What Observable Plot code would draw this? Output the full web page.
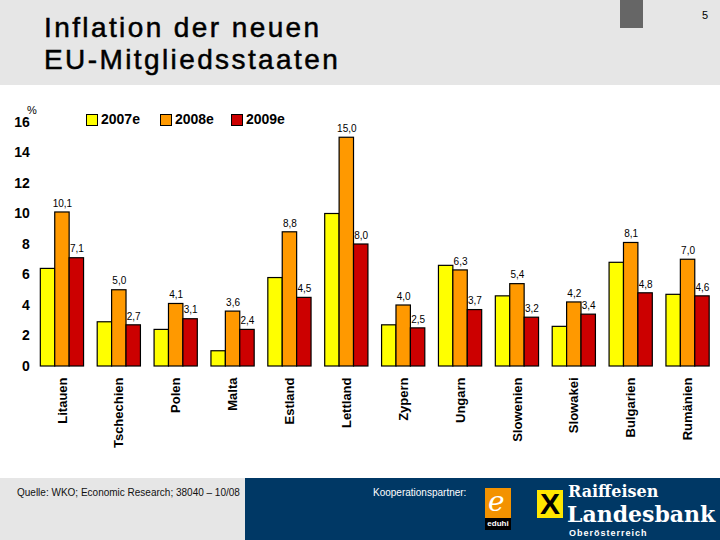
<!DOCTYPE html>
<html>
<head>
<meta charset="utf-8">
<script src="https://cdn.jsdelivr.net/npm/d3@7"></script>
<script src="https://cdn.jsdelivr.net/npm/@observablehq/plot@0.6"></script>
<style>
  body { margin: 0; }
  #page { position: relative; width: 720px; height: 540px; overflow: hidden; background: white; font-family: "Liberation Sans", Arial, sans-serif; }
  .abs { position: absolute; }
  .sw { display: inline-block; width: 10px; height: 10px; border: 1px solid black; vertical-align: middle; margin-right: 3px; }
</style>
</head>
<body>
<div id="page">
  <div class="abs" style="left:0;top:0;width:720px;height:85px;background:#e6e6e6;"></div>
  <div class="abs" style="left:620px;top:0;width:23px;height:28px;background:#666;"></div>
  <div class="abs" style="left:702px;top:9px;font-size:11px;">5</div>
  <div class="abs" style="left:44px;top:12px;font-size:28px;line-height:32px;letter-spacing:2.4px;color:#000;-webkit-text-stroke:0.5px #000;">Inflation der neuen<br>EU-Mitgliedsstaaten</div>

  <div id="chart" class="abs" style="left:0;top:85px;"></div>
  <div class="abs" style="left:27px;top:104px;font-size:11px;">%</div>
  <div id="legend" class="abs" style="left:86px;top:111px;font-size:14px;font-weight:bold;white-space:nowrap;"></div>

  <div class="abs" style="left:0;top:478px;width:245px;height:62px;background:#e6e6e6;"></div>
  <div class="abs" style="left:245px;top:478px;width:475px;height:62px;background:#003865;"></div>
  <div class="abs" style="left:17px;top:487px;font-size:10px;color:#111;">Quelle: WKO; Economic Research; 38040 – 10/08</div>
  <div class="abs" style="left:373px;top:487px;font-size:10px;color:#fff;">Kooperationspartner:</div>
  <div class="abs" style="left:485px;top:488px;width:26px;height:42px;background:#f39200;"></div>
  <div class="abs" style="left:488px;top:488px;font-size:28px;line-height:28px;font-style:italic;color:#fff;font-family:'DejaVu Serif',serif;">e</div>
  <div class="abs" style="left:485px;top:518px;width:26px;height:12px;background:#000;color:#fff;font-size:8px;text-align:center;line-height:12px;font-weight:bold;">eduhi</div>
  <div class="abs" style="left:537px;top:490px;width:26px;height:28px;background:#ffe600;color:#000;font-size:30px;font-weight:bold;text-align:center;line-height:28px;">X</div>
  <div class="abs" style="left:568px;top:484px;font-size:16px;line-height:15px;font-weight:bold;color:#fff;font-family:'DejaVu Serif',serif;">Raiffeisen</div>
  <div class="abs" style="left:567px;top:504px;font-size:22px;line-height:20px;font-weight:bold;color:#fff;font-family:'DejaVu Serif',serif;">Landesbank</div>
  <div class="abs" style="left:569px;top:528px;font-size:9px;line-height:10px;font-weight:bold;color:#fff;letter-spacing:1px;">Oberösterreich</div>
</div>
<script>
const countries = ["Litauen","Tschechien","Polen","Malta","Estland","Lettland","Zypern","Ungarn","Slowenien","Slowakei","Bulgarien","Rumänien"];
const series = ["2007e","2008e","2009e"];
const v2007 = [6.4, 2.9, 2.4, 1.0, 5.8, 10.0, 2.7, 6.6, 4.6, 2.6, 6.8, 4.7];
const v2008 = [10.1, 5.0, 4.1, 3.6, 8.8, 15.0, 4.0, 6.3, 5.4, 4.2, 8.1, 7.0];
const v2009 = [7.1, 2.7, 3.1, 2.4, 4.5, 8.0, 2.5, 3.7, 3.2, 3.4, 4.8, 4.6];
const yTicks = [0, 2, 4, 6, 8, 10, 12, 14, 16];
const colors = ["#ffff00", "#ff9900", "#cc0000"];

const values = [v2007, v2008, v2009];
const data = countries.flatMap((c, i) => series.map((s, j) => ({country: c, series: s, value: values[j][i]})));
const fmt = v => v.toFixed(1).replace(".", ",");

const chart = Plot.plot({
  width: 720,
  height: 390,
  marginLeft: 33.5,
  marginRight: 4,
  marginTop: 37,
  marginBottom: 109,
  style: {fontFamily: "Liberation Sans, Arial, sans-serif", background: "transparent", color: "black"},
  fx: {domain: countries, paddingInner: 0.24, paddingOuter: 0.12, round: false, label: null},
  x: {domain: series, padding: 0, round: false, axis: null},
  y: {domain: [0, 16], label: null},
  color: {domain: series, range: colors},
  marks: [
    Plot.axisY({ticks: yTicks, tickSize: 0, tickPadding: 11, fontSize: 14, fontWeight: "bold", label: null, tickFormat: d => String(d)}),
    Plot.axisFx({anchor: "bottom", tickRotate: -90, tickSize: 0, tickPadding: 11, fontSize: 13, fontWeight: "bold", label: null}),
    Plot.barY(data, {fx: "country", x: "series", y: "value", fill: "series", stroke: "black", strokeWidth: 1.2}),
    Plot.text(data.filter(d => d.series !== "2007e"), {fx: "country", x: "series", y: "value", text: d => fmt(d.value), dy: -9, fontSize: 10})
  ]
});
document.getElementById("chart").appendChild(chart);

const legend = document.getElementById("legend");
const gaps = [20, 17, 0];
series.forEach((s, i) => {
  const span = document.createElement("span");
  span.style.marginRight = gaps[i] + "px";
  span.innerHTML = `<span class="sw" style="background:${colors[i]}"></span>${s}`;
  legend.appendChild(span);
});
</script>
</body>
</html>
